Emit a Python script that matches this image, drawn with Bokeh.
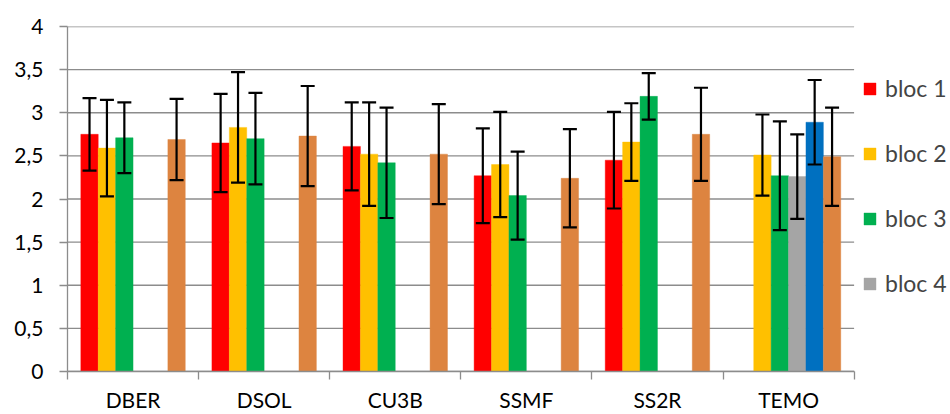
from bokeh.plotting import figure
from bokeh.models import (Range1d, FixedTicker, ColumnDataSource, Whisker, TeeHead,
                          Legend, LegendItem)
from bokeh.embed import file_html
from bokeh.resources import INLINE

categories = ["DBER", "DSOL", "CU3B", "SSMF", "SS2R", "TEMO"]
series_names = ["bloc 1", "bloc 2", "bloc 3", "bloc 4", "bloc 5", "moyenne"]
series_colors = ["#FF0000", "#FFC000", "#00B050", "#A5A5A5", "#0070C0", "#DD8440"]

bloc1 = [2.75, 2.65, 2.61, 2.27, 2.45, None]
bloc2 = [2.59, 2.83, 2.52, 2.40, 2.66, 2.51]
bloc3 = [2.71, 2.70, 2.42, 2.04, 3.19, 2.27]
bloc4 = [None, None, None, None, None, 2.26]
bloc5 = [None, None, None, None, None, 2.89]
moyenne = [2.69, 2.73, 2.52, 2.24, 2.75, 2.49]

err1 = [0.42, 0.57, 0.51, 0.55, 0.56, None]
err2 = [0.56, 0.64, 0.60, 0.61, 0.45, 0.47]
err3 = [0.41, 0.53, 0.64, 0.51, 0.27, 0.63]
err4 = [None, None, None, None, None, 0.49]
err5 = [None, None, None, None, None, 0.49]
err6 = [0.47, 0.58, 0.58, 0.57, 0.54, 0.57]

y_ticks = [0, 0.5, 1, 1.5, 2, 2.5, 3, 3.5, 4]

values = [bloc1, bloc2, bloc3, bloc4, bloc5, moyenne]
errors = [err1, err2, err3, err4, err5, err6]

n_cat = len(categories)
n_series = len(values)
gap_ratio = 1.53
bar_w = 1.0 / (n_series + gap_ratio)

FONT = "Lato"
GRID = "#8C8C8C"

W, H = 950, 414
LEFT, TOP, BOTTOM = 67, 26, 43
CAT_PX = 131.1                      # pixel width of one category slot
frame_w = W - LEFT
x_end = frame_w / CAT_PX            # extra room on the right holds the legend

p = figure(width=W, height=H, output_backend="svg", toolbar_location=None,
           x_range=Range1d(0, x_end), y_range=Range1d(0, 4),
           min_border_left=LEFT, min_border_right=0, min_border_top=TOP, min_border_bottom=BOTTOM)
p.outline_line_color = None
p.xgrid.grid_line_color = None
p.ygrid.grid_line_color = None

# horizontal grid lines limited to the category area
p.segment(x0=[0] * len(y_ticks), x1=[n_cat] * len(y_ticks), y0=y_ticks, y1=y_ticks,
          line_color=GRID, line_width=1.3)

renderers = []
for j in range(n_series):
    xs, tops, ups, los = [], [], [], []
    for i, v in enumerate(values[j]):
        if v is None:
            continue
        x = i + (gap_ratio / 2 + j + 0.5) * bar_w
        xs.append(x)
        tops.append(v)
        e = errors[j][i]
        ups.append(v + e)
        los.append(v - e)
    src = ColumnDataSource(dict(x=xs, top=tops, upper=ups, lower=los))
    r = p.vbar(x="x", top="top", width=bar_w, bottom=0, source=src,
               fill_color=series_colors[j], line_color=series_colors[j], line_alpha=0.4)
    renderers.append(r)
    w = Whisker(base="x", upper="upper", lower="lower", source=src,
                line_color="black", line_width=2.2, level="overlay",
                upper_head=TeeHead(size=14, line_width=2.2, line_color="black"),
                lower_head=TeeHead(size=14, line_width=2.2, line_color="black"))
    p.add_layout(w)

# y axis
p.yaxis.ticker = FixedTicker(ticks=y_ticks)
p.yaxis.major_label_overrides = {t: (str(t).replace(".", ",") if t != int(t) else str(int(t))) for t in y_ticks}
p.yaxis.axis_line_color = GRID
p.yaxis.axis_line_width = 1.3
p.yaxis.major_tick_line_color = GRID
p.yaxis.major_tick_line_width = 1.3
p.yaxis.major_tick_out = 8
p.yaxis.major_tick_in = 0
p.yaxis.minor_tick_line_color = None
p.yaxis.major_label_standoff = 16
p.yaxis.major_label_text_font = FONT
p.yaxis.major_label_text_font_size = "21px"
p.yaxis.major_label_text_color = "black"

# x axis
centers = [i + 0.5 for i in range(n_cat)]
p.xaxis.bounds = (0, n_cat)
p.xaxis.ticker = FixedTicker(ticks=centers, minor_ticks=list(range(n_cat + 1)))
p.xaxis.major_label_overrides = {c: categories[i] for i, c in enumerate(centers)}
p.xaxis.axis_line_color = GRID
p.xaxis.axis_line_width = 1.3
p.xaxis.major_tick_line_color = None
p.xaxis.major_tick_out = 0
p.xaxis.major_tick_in = 0
p.xaxis.minor_tick_line_color = GRID
p.xaxis.minor_tick_line_width = 1.3
p.xaxis.minor_tick_out = 8
p.xaxis.minor_tick_in = 0
p.xaxis.major_label_standoff = 7
p.xaxis.major_label_text_font = FONT
p.xaxis.major_label_text_font_size = "21px"
p.xaxis.major_label_text_color = "black"

legend = Legend(items=[LegendItem(label=series_names[j], renderers=[renderers[j]]) for j in range(4)],
                location=(795, 73), orientation="vertical",
                glyph_width=15, glyph_height=15, label_standoff=8,
                label_text_font=FONT, label_text_font_size="23px", label_height=30,
                spacing=35, padding=0, margin=0,
                border_line_color=None, background_fill_alpha=0)
p.add_layout(legend, "center")

open("out.html", "w").write(file_html(p, INLINE))
